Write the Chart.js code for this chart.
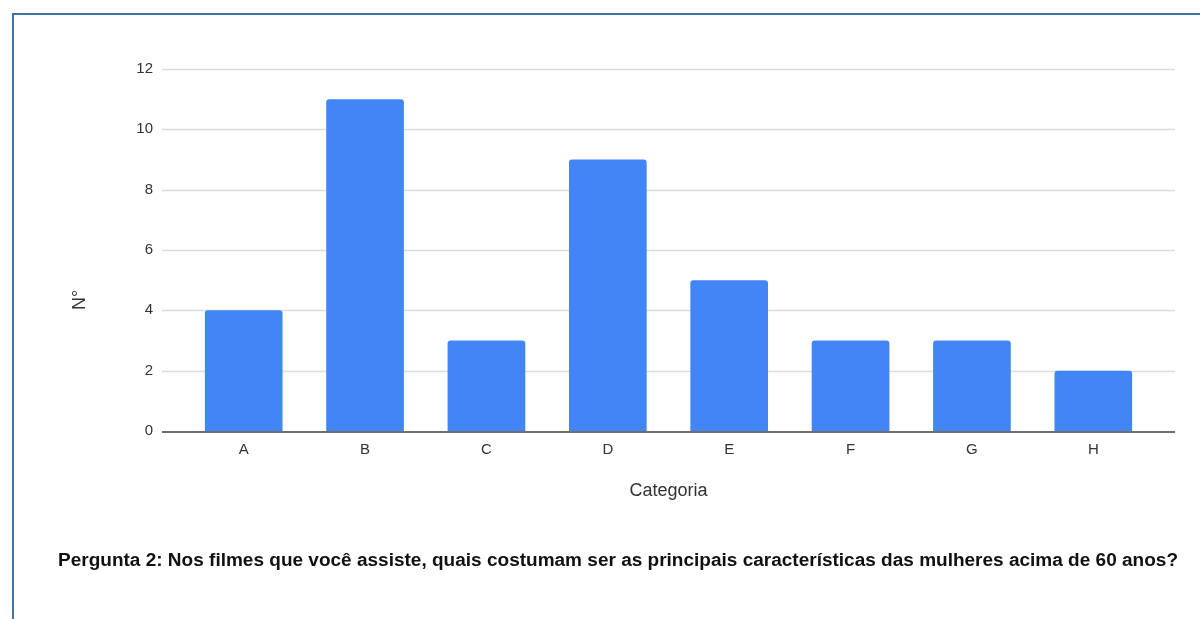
<!DOCTYPE html>
<html>
<head>
<meta charset="utf-8">
<script src="https://cdn.jsdelivr.net/npm/chart.js@4.4.0/dist/chart.umd.min.js"></script>
<style>
  html, body { margin: 0; padding: 0; background: #fff; overflow: hidden; }
  #wrap { position: relative; width: 1200px; height: 619px; }
  #frame { position: absolute; left: 12px; top: 13px; width: 1300px; height: 700px;
           border-top: 2px solid #4470a6; border-left: 2px solid #4470a6; pointer-events: none; }
  canvas { position: absolute; left: 0; top: 0; }
</style>
</head>
<body>
<div id="wrap">
  <canvas id="c" width="1200" height="619"></canvas>
  <div id="frame"></div>
</div>
<script>
const categories = ['A', 'B', 'C', 'D', 'E', 'F', 'G', 'H'];
const values = [4, 11, 3, 9, 5, 3, 3, 2];
const yTicks = [0, 2, 4, 6, 8, 10, 12];
const xTitle = 'Categoria';
const yTitle = 'N°';
const mainTitle = 'Pergunta 2: Nos filmes que você assiste, quais costumam ser as principais características das mulheres acima de 60 anos?';

const FONT = "'Liberation Sans', Arial, sans-serif";
const EXT = 21;

const decor = {
  id: 'decor',
  beforeDatasetsDraw(chart) {
    const ctx = chart.ctx, ca = chart.chartArea, y = chart.scales.y;
    ctx.save();
    ctx.strokeStyle = '#dcdcdc';
    ctx.lineWidth = 1.5;
    yTicks.forEach(v => {
      if (v === 0) return;
      const py = Math.round(y.getPixelForValue(v)) + 0.5;
      ctx.beginPath();
      ctx.moveTo(ca.left - EXT, py);
      ctx.lineTo(ca.right + EXT, py);
      ctx.stroke();
    });
    ctx.restore();
  },
  afterDatasetsDraw(chart) {
    const ctx = chart.ctx, ca = chart.chartArea, y = chart.scales.y;
    ctx.save();
    ctx.strokeStyle = '#6e6e6e';
    ctx.lineWidth = 2;
    const py = Math.round(y.getPixelForValue(0)) + 1;
    ctx.beginPath();
    ctx.moveTo(ca.left - EXT, py);
    ctx.lineTo(ca.right + EXT, py);
    ctx.stroke();

    // axis titles
    ctx.fillStyle = '#333';
    ctx.font = '18px ' + FONT;
    ctx.textAlign = 'center';
    ctx.textBaseline = 'middle';
    ctx.fillText(xTitle, (ca.left + ca.right) / 2, 491);
    ctx.save();
    ctx.translate(80, 300);
    ctx.rotate(-Math.PI / 2);
    ctx.fillText(yTitle, 0, 0);
    ctx.restore();

    // main title
    ctx.fillStyle = '#111';
    ctx.font = 'bold 18px ' + FONT;
    ctx.textAlign = 'left';
    const w = ctx.measureText(mainTitle).width;
    const target = 1120;
    ctx.save();
    ctx.translate(58, 561);
    ctx.scale(target / w, 1);
    ctx.fillText(mainTitle, 0, 0);
    ctx.restore();
    ctx.restore();
  }
};

new Chart(document.getElementById('c'), {
  type: 'bar',
  data: {
    labels: categories,
    datasets: [{
      data: values,
      backgroundColor: '#4285f4',
      borderRadius: { topLeft: 3, topRight: 3 },
      borderSkipped: 'bottom',
      categoryPercentage: 1,
      barPercentage: 0.64
    }]
  },
  options: {
    responsive: false,
    animation: false,
    devicePixelRatio: 1,
    layout: { padding: { left: 0, top: 69, right: 46, bottom: 0 } },
    plugins: { legend: { display: false }, tooltip: { enabled: false } },
    scales: {
      x: {
        grid: { display: false, drawTicks: false },
        border: { display: false },
        ticks: { color: '#333', font: { family: FONT, size: 15 }, padding: 10 },
        afterFit(s) { s.height = 619 - 431; }
      },
      y: {
        min: 0, max: 12,
        grid: { display: false, drawTicks: false },
        border: { display: false },
        ticks: { stepSize: 2, color: '#333', font: { family: FONT, size: 15 }, padding: 30 },
        afterFit(s) { s.width = 183; }
      }
    }
  },
  plugins: [decor]
});
</script>
</body>
</html>
